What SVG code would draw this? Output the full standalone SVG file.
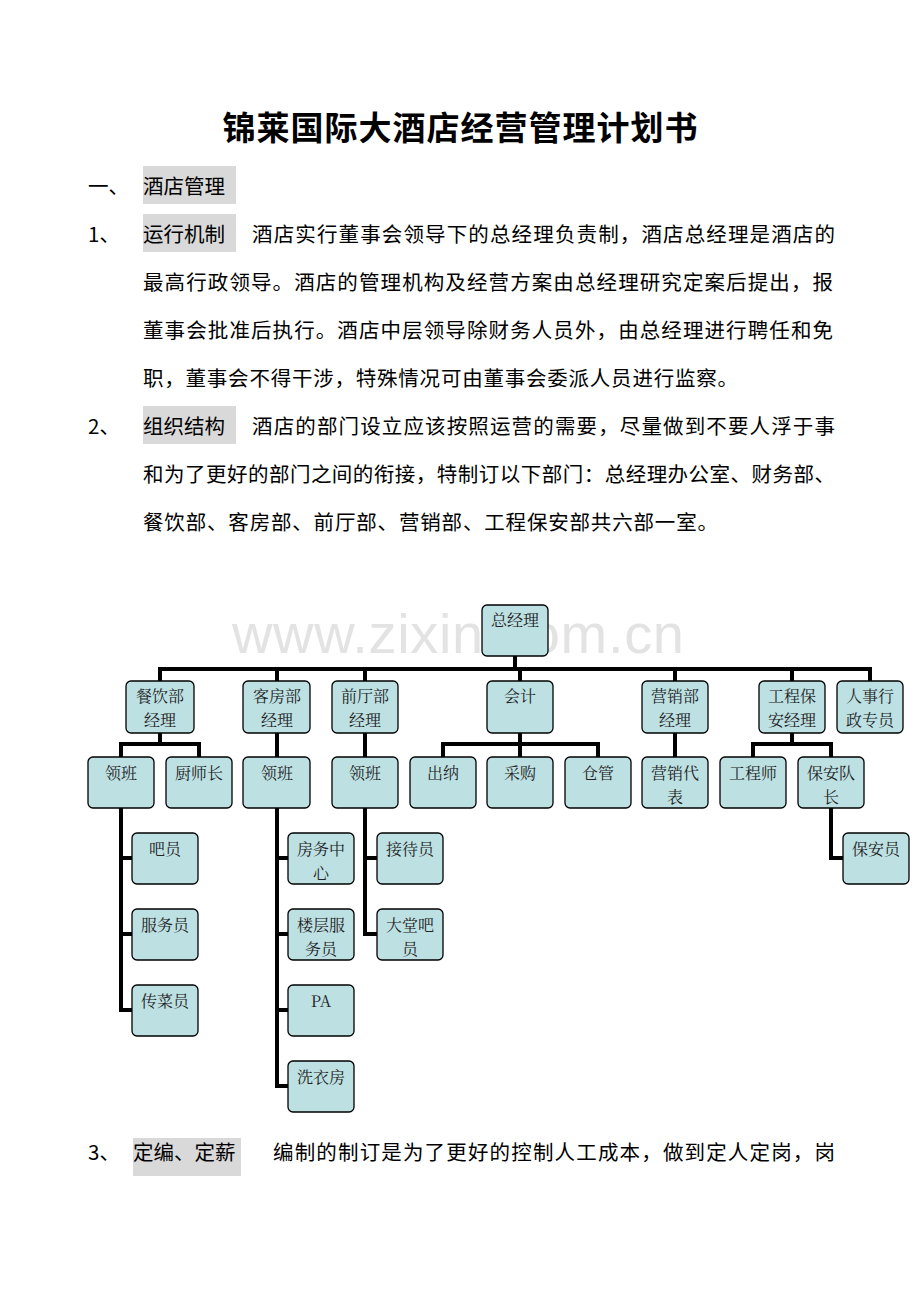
<svg xmlns="http://www.w3.org/2000/svg" width="920" height="1302" viewBox="0 0 920 1302">
<style>
.t{font-family:"Noto Sans CJK SC","Noto Sans",sans-serif;font-size:20.5px;fill:#000}
.h{fill:#d9d9d9}
.n rect{fill:#bde0e3;stroke:#000;stroke-width:1.3}
.n text{font-family:"Noto Serif CJK SC","Noto Sans CJK SC",serif;font-size:16px;fill:#222;text-anchor:middle}
.c path{stroke:#000;stroke-width:4;fill:none}
</style>
<rect width="920" height="1302" fill="#fff"/>
<text x="460" y="140" text-anchor="middle" textLength="475" style="font-family:'Noto Sans CJK SC',sans-serif;font-size:33px;font-weight:bold">锦莱国际大酒店经营管理计划书</text>
<rect class="h" x="143" y="166" width="93" height="38"/>
<rect class="h" x="143" y="214" width="93" height="38"/>
<rect class="h" x="143" y="406" width="93" height="38"/>
<rect class="h" x="133" y="1138" width="108" height="38"/>
<text class="t" x="88" y="194">一、</text><text class="t" x="143" y="194">酒店管理</text>
<text class="t" x="88" y="242">1、</text><text class="t" x="143" y="242">运行机制</text><text class="t" x="252" y="242" textLength="583">酒店实行董事会领导下的总经理负责制，酒店总经理是酒店的</text>
<text class="t" x="143" y="290" textLength="690">最高行政领导。酒店的管理机构及经营方案由总经理研究定案后提出，报</text>
<text class="t" x="143" y="338" textLength="690">董事会批准后执行。酒店中层领导除财务人员外，由总经理进行聘任和免</text>
<text class="t" x="143" y="386" textLength="595">职，董事会不得干涉，特殊情况可由董事会委派人员进行监察。</text>
<text class="t" x="88" y="434">2、</text><text class="t" x="143" y="434">组织结构</text><text class="t" x="252" y="434" textLength="583">酒店的部门设立应该按照运营的需要，尽量做到不要人浮于事</text>
<text class="t" x="143" y="482" textLength="692">和为了更好的部门之间的衔接，特制订以下部门：总经理办公室、财务部、</text>
<text class="t" x="143" y="530" textLength="575">餐饮部、客房部、前厅部、营销部、工程保安部共六部一室。</text>
<text class="t" x="88" y="1160">3、</text><text class="t" x="133" y="1160">定编、定薪</text><text class="t" x="273" y="1160" textLength="562">编制的制订是为了更好的控制人工成本，做到定人定岗，岗</text>
<text x="458" y="653" text-anchor="middle" textLength="452" style="font-family:'Liberation Sans',sans-serif;font-size:56px;fill:#e3e3e3">www.zixin.com.cn</text>
<g class="c">
<path d="M515 656V669M160 681V669H870V681M277 669V681M365 669V681M520 669V681M675 669V681M792 669V681"/>
<path d="M160 733V744M121 757V744H199V757"/>
<path d="M277 733V757M365 733V757M675 733V757"/>
<path d="M520 733V744M443 757V744H598V757M520 744V757"/>
<path d="M792 733V744M753 757V744H831V757"/>
<path d="M121 808V1010H132M121 858H132M121 934H132"/>
<path d="M277 808V1086H288M277 858H288M277 934H288M277 1010H288"/>
<path d="M365 808V934H377M365 858H377"/>
<path d="M831 808V858H843"/>
</g>
<g id="gm" class="n"><rect x="482" y="605" width="66" height="51" rx="5"/><text x="515" y="626">总经理</text></g>
<g id="cy" class="n"><rect x="126" y="681" width="68" height="52" rx="5"/><text x="160" y="702">餐饮部</text><text x="160" y="726">经理</text></g>
<g id="kf" class="n"><rect x="243" y="681" width="67" height="52" rx="5"/><text x="277" y="702">客房部</text><text x="277" y="726">经理</text></g>
<g id="qt" class="n"><rect x="332" y="681" width="66" height="52" rx="5"/><text x="365" y="702">前厅部</text><text x="365" y="726">经理</text></g>
<g id="kj" class="n"><rect x="487" y="681" width="66" height="52" rx="5"/><text x="520" y="702">会计</text></g>
<g id="yx" class="n"><rect x="642" y="681" width="66" height="52" rx="5"/><text x="675" y="702">营销部</text><text x="675" y="726">经理</text></g>
<g id="gc" class="n"><rect x="759" y="681" width="66" height="52" rx="5"/><text x="792" y="702">工程保</text><text x="792" y="726">安经理</text></g>
<g id="rs" class="n"><rect x="837" y="681" width="66" height="52" rx="5"/><text x="870" y="702">人事行</text><text x="870" y="726">政专员</text></g>
<g id="lb1" class="n"><rect x="88" y="757" width="66" height="51" rx="5"/><text x="121" y="779">领班</text></g>
<g id="csz" class="n"><rect x="166" y="757" width="66" height="51" rx="5"/><text x="199" y="779">厨师长</text></g>
<g id="lb2" class="n"><rect x="243" y="757" width="67" height="51" rx="5"/><text x="277" y="779">领班</text></g>
<g id="lb3" class="n"><rect x="332" y="757" width="66" height="51" rx="5"/><text x="365" y="779">领班</text></g>
<g id="cn" class="n"><rect x="410" y="757" width="66" height="51" rx="5"/><text x="443" y="779">出纳</text></g>
<g id="cg" class="n"><rect x="487" y="757" width="66" height="51" rx="5"/><text x="520" y="779">采购</text></g>
<g id="cgu" class="n"><rect x="565" y="757" width="66" height="51" rx="5"/><text x="598" y="779">仓管</text></g>
<g id="yxdb" class="n"><rect x="642" y="757" width="66" height="51" rx="5"/><text x="675" y="779">营销代</text><text x="675" y="803">表</text></g>
<g id="gcs" class="n"><rect x="720" y="757" width="66" height="51" rx="5"/><text x="753" y="779">工程师</text></g>
<g id="badz" class="n"><rect x="798" y="757" width="66" height="51" rx="5"/><text x="831" y="779">保安队</text><text x="831" y="803">长</text></g>
<g id="by" class="n"><rect x="132" y="833" width="66" height="51" rx="5"/><text x="165" y="855">吧员</text></g>
<g id="fwy" class="n"><rect x="132" y="909" width="66" height="51" rx="5"/><text x="165" y="931">服务员</text></g>
<g id="ccy" class="n"><rect x="132" y="985" width="66" height="51" rx="5"/><text x="165" y="1007">传菜员</text></g>
<g id="fwzx" class="n"><rect x="288" y="833" width="66" height="51" rx="5"/><text x="321" y="855">房务中</text><text x="321" y="879">心</text></g>
<g id="lcfwy" class="n"><rect x="288" y="909" width="66" height="51" rx="5"/><text x="321" y="931">楼层服</text><text x="321" y="955">务员</text></g>
<g id="pa" class="n"><rect x="288" y="985" width="66" height="51" rx="5"/><text x="321" y="1007">PA</text></g>
<g id="xyf" class="n"><rect x="288" y="1061" width="66" height="51" rx="5"/><text x="321" y="1083">洗衣房</text></g>
<g id="jdy" class="n"><rect x="377" y="833" width="66" height="51" rx="5"/><text x="410" y="855">接待员</text></g>
<g id="dtby" class="n"><rect x="377" y="909" width="66" height="51" rx="5"/><text x="410" y="931">大堂吧</text><text x="410" y="955">员</text></g>
<g id="bay" class="n"><rect x="843" y="833" width="66" height="51" rx="5"/><text x="876" y="855">保安员</text></g>
</svg>
